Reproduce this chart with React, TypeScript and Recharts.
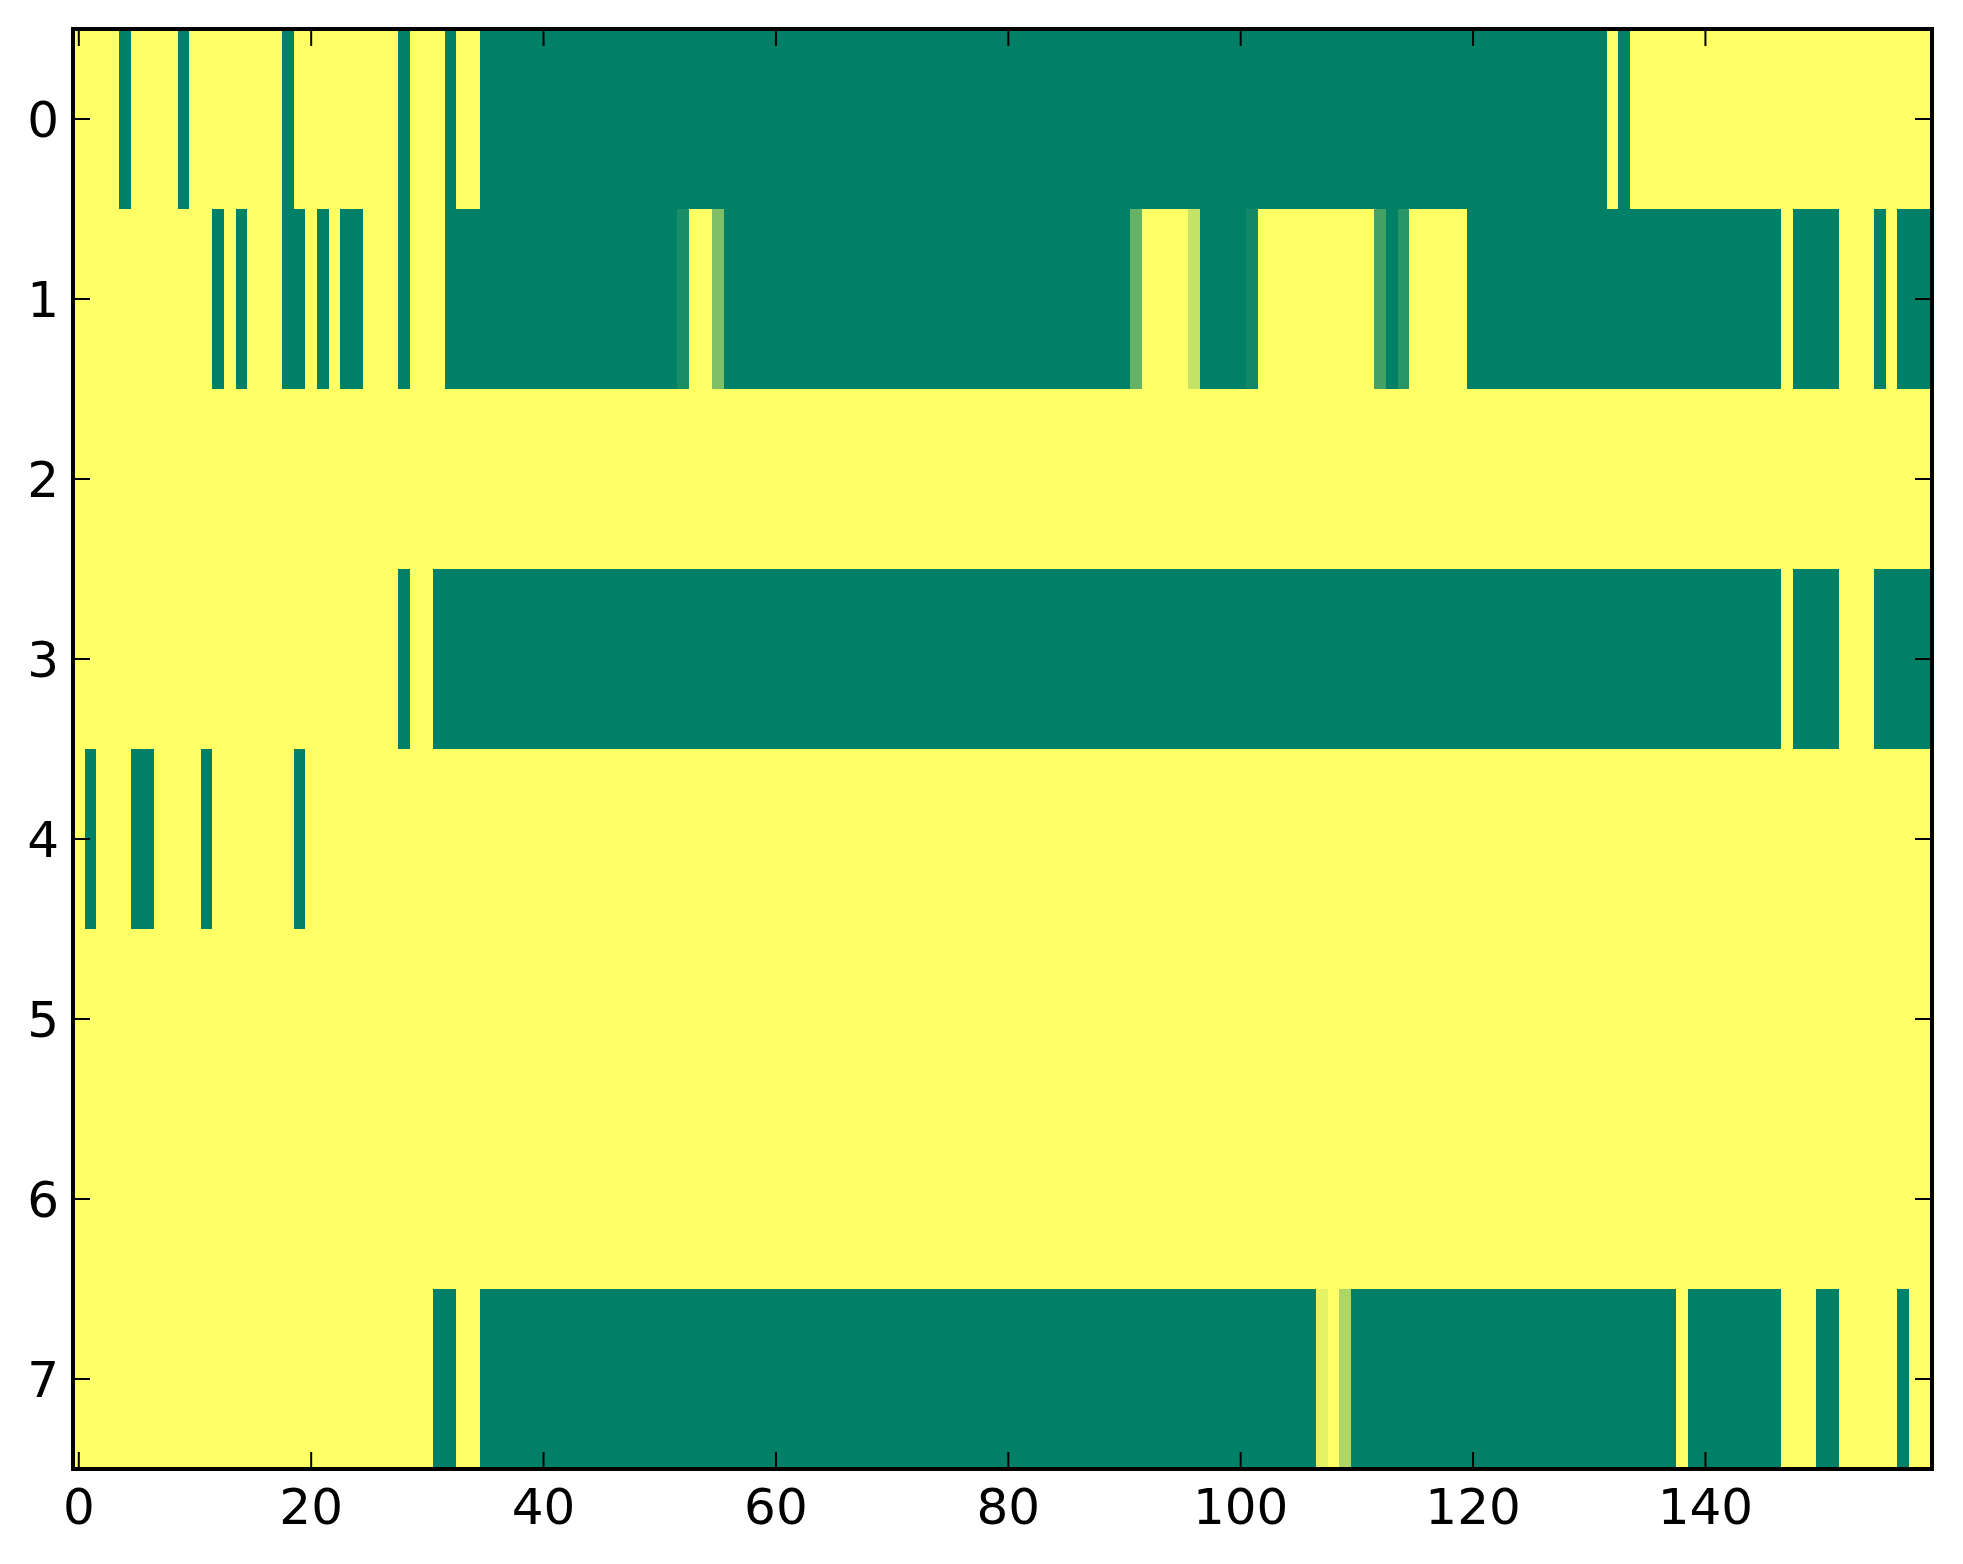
import React from 'react';
import { BarChart, Bar, XAxis, YAxis, Cell } from 'recharts';

// Row labels (top to bottom)
const rowLabels = ['0', '1', '2', '3', '4', '5', '6', '7'];

// Cell values per row (0 = green, 1 = yellow, "summer" colormap), 160 columns each
const row0 = [
  1, 1, 1, 1, 0, 1, 1, 1, 1, 0, 1, 1, 1, 1, 1, 1, 1, 1, 0, 1,
  1, 1, 1, 1, 1, 1, 1, 1, 0, 1, 1, 1, 0, 1, 1, 0, 0, 0, 0, 0,
  0, 0, 0, 0, 0, 0, 0, 0, 0, 0, 0, 0, 0, 0, 0, 0, 0, 0, 0, 0,
  0, 0, 0, 0, 0, 0, 0, 0, 0, 0, 0, 0, 0, 0, 0, 0, 0, 0, 0, 0,
  0, 0, 0, 0, 0, 0, 0, 0, 0, 0, 0, 0, 0, 0, 0, 0, 0, 0, 0, 0,
  0, 0, 0, 0, 0, 0, 0, 0, 0, 0, 0, 0, 0, 0, 0, 0, 0, 0, 0, 0,
  0, 0, 0, 0, 0, 0, 0, 0, 0, 0, 0, 0, 1, 0, 1, 1, 1, 1, 1, 1,
  1, 1, 1, 1, 1, 1, 1, 1, 1, 1, 1, 1, 1, 1, 1, 1, 1, 1, 1, 1,
];
const row1 = [
  1, 1, 1, 1, 1, 1, 1, 1, 1, 1, 1, 1, 0, 1, 0, 1, 1, 1, 0, 0,
  1, 0, 1, 0, 0, 1, 1, 1, 0, 1, 1, 1, 0, 0, 0, 0, 0, 0, 0, 0,
  0, 0, 0, 0, 0, 0, 0, 0, 0, 0, 0, 0, 0.1, 1, 1, 0.5, 0, 0, 0, 0,
  0, 0, 0, 0, 0, 0, 0, 0, 0, 0, 0, 0, 0, 0, 0, 0, 0, 0, 0, 0,
  0, 0, 0, 0, 0, 0, 0, 0, 0, 0, 0, 0.4, 1, 1, 1, 1, 0.77, 0, 0, 0,
  0, 0.07, 1, 1, 1, 1, 1, 1, 1, 1, 1, 1, 0.27, 0, 0.16, 1, 1, 1, 1, 1,
  0, 0, 0, 0, 0, 0, 0, 0, 0, 0, 0, 0, 0, 0, 0, 0, 0, 0, 0, 0,
  0, 0, 0, 0, 0, 0, 0, 1, 0, 0, 0, 0, 1, 1, 1, 0, 1, 0, 0, 0,
];
const row2 = [
  1, 1, 1, 1, 1, 1, 1, 1, 1, 1, 1, 1, 1, 1, 1, 1, 1, 1, 1, 1,
  1, 1, 1, 1, 1, 1, 1, 1, 1, 1, 1, 1, 1, 1, 1, 1, 1, 1, 1, 1,
  1, 1, 1, 1, 1, 1, 1, 1, 1, 1, 1, 1, 1, 1, 1, 1, 1, 1, 1, 1,
  1, 1, 1, 1, 1, 1, 1, 1, 1, 1, 1, 1, 1, 1, 1, 1, 1, 1, 1, 1,
  1, 1, 1, 1, 1, 1, 1, 1, 1, 1, 1, 1, 1, 1, 1, 1, 1, 1, 1, 1,
  1, 1, 1, 1, 1, 1, 1, 1, 1, 1, 1, 1, 1, 1, 1, 1, 1, 1, 1, 1,
  1, 1, 1, 1, 1, 1, 1, 1, 1, 1, 1, 1, 1, 1, 1, 1, 1, 1, 1, 1,
  1, 1, 1, 1, 1, 1, 1, 1, 1, 1, 1, 1, 1, 1, 1, 1, 1, 1, 1, 1,
];
const row3 = [
  1, 1, 1, 1, 1, 1, 1, 1, 1, 1, 1, 1, 1, 1, 1, 1, 1, 1, 1, 1,
  1, 1, 1, 1, 1, 1, 1, 1, 0, 1, 1, 0, 0, 0, 0, 0, 0, 0, 0, 0,
  0, 0, 0, 0, 0, 0, 0, 0, 0, 0, 0, 0, 0, 0, 0, 0, 0, 0, 0, 0,
  0, 0, 0, 0, 0, 0, 0, 0, 0, 0, 0, 0, 0, 0, 0, 0, 0, 0, 0, 0,
  0, 0, 0, 0, 0, 0, 0, 0, 0, 0, 0, 0, 0, 0, 0, 0, 0, 0, 0, 0,
  0, 0, 0, 0, 0, 0, 0, 0, 0, 0, 0, 0, 0, 0, 0, 0, 0, 0, 0, 0,
  0, 0, 0, 0, 0, 0, 0, 0, 0, 0, 0, 0, 0, 0, 0, 0, 0, 0, 0, 0,
  0, 0, 0, 0, 0, 0, 0, 1, 0, 0, 0, 0, 1, 1, 1, 0, 0, 0, 0, 0,
];
const row4 = [
  1, 0, 1, 1, 1, 0, 0, 1, 1, 1, 1, 0, 1, 1, 1, 1, 1, 1, 1, 0,
  1, 1, 1, 1, 1, 1, 1, 1, 1, 1, 1, 1, 1, 1, 1, 1, 1, 1, 1, 1,
  1, 1, 1, 1, 1, 1, 1, 1, 1, 1, 1, 1, 1, 1, 1, 1, 1, 1, 1, 1,
  1, 1, 1, 1, 1, 1, 1, 1, 1, 1, 1, 1, 1, 1, 1, 1, 1, 1, 1, 1,
  1, 1, 1, 1, 1, 1, 1, 1, 1, 1, 1, 1, 1, 1, 1, 1, 1, 1, 1, 1,
  1, 1, 1, 1, 1, 1, 1, 1, 1, 1, 1, 1, 1, 1, 1, 1, 1, 1, 1, 1,
  1, 1, 1, 1, 1, 1, 1, 1, 1, 1, 1, 1, 1, 1, 1, 1, 1, 1, 1, 1,
  1, 1, 1, 1, 1, 1, 1, 1, 1, 1, 1, 1, 1, 1, 1, 1, 1, 1, 1, 1,
];
const row5 = [
  1, 1, 1, 1, 1, 1, 1, 1, 1, 1, 1, 1, 1, 1, 1, 1, 1, 1, 1, 1,
  1, 1, 1, 1, 1, 1, 1, 1, 1, 1, 1, 1, 1, 1, 1, 1, 1, 1, 1, 1,
  1, 1, 1, 1, 1, 1, 1, 1, 1, 1, 1, 1, 1, 1, 1, 1, 1, 1, 1, 1,
  1, 1, 1, 1, 1, 1, 1, 1, 1, 1, 1, 1, 1, 1, 1, 1, 1, 1, 1, 1,
  1, 1, 1, 1, 1, 1, 1, 1, 1, 1, 1, 1, 1, 1, 1, 1, 1, 1, 1, 1,
  1, 1, 1, 1, 1, 1, 1, 1, 1, 1, 1, 1, 1, 1, 1, 1, 1, 1, 1, 1,
  1, 1, 1, 1, 1, 1, 1, 1, 1, 1, 1, 1, 1, 1, 1, 1, 1, 1, 1, 1,
  1, 1, 1, 1, 1, 1, 1, 1, 1, 1, 1, 1, 1, 1, 1, 1, 1, 1, 1, 1,
];
const row6 = [
  1, 1, 1, 1, 1, 1, 1, 1, 1, 1, 1, 1, 1, 1, 1, 1, 1, 1, 1, 1,
  1, 1, 1, 1, 1, 1, 1, 1, 1, 1, 1, 1, 1, 1, 1, 1, 1, 1, 1, 1,
  1, 1, 1, 1, 1, 1, 1, 1, 1, 1, 1, 1, 1, 1, 1, 1, 1, 1, 1, 1,
  1, 1, 1, 1, 1, 1, 1, 1, 1, 1, 1, 1, 1, 1, 1, 1, 1, 1, 1, 1,
  1, 1, 1, 1, 1, 1, 1, 1, 1, 1, 1, 1, 1, 1, 1, 1, 1, 1, 1, 1,
  1, 1, 1, 1, 1, 1, 1, 1, 1, 1, 1, 1, 1, 1, 1, 1, 1, 1, 1, 1,
  1, 1, 1, 1, 1, 1, 1, 1, 1, 1, 1, 1, 1, 1, 1, 1, 1, 1, 1, 1,
  1, 1, 1, 1, 1, 1, 1, 1, 1, 1, 1, 1, 1, 1, 1, 1, 1, 1, 1, 1,
];
const row7 = [
  1, 1, 1, 1, 1, 1, 1, 1, 1, 1, 1, 1, 1, 1, 1, 1, 1, 1, 1, 1,
  1, 1, 1, 1, 1, 1, 1, 1, 1, 1, 1, 0, 0, 1, 1, 0, 0, 0, 0, 0,
  0, 0, 0, 0, 0, 0, 0, 0, 0, 0, 0, 0, 0, 0, 0, 0, 0, 0, 0, 0,
  0, 0, 0, 0, 0, 0, 0, 0, 0, 0, 0, 0, 0, 0, 0, 0, 0, 0, 0, 0,
  0, 0, 0, 0, 0, 0, 0, 0, 0, 0, 0, 0, 0, 0, 0, 0, 0, 0, 0, 0,
  0, 0, 0, 0, 0, 0, 0, 0.9, 1, 0.68, 0, 0, 0, 0, 0, 0, 0, 0, 0, 0,
  0, 0, 0, 0, 0, 0, 0, 0, 0, 0, 0, 0, 0, 0, 0, 0, 0, 0, 1, 0,
  0, 0, 0, 0, 0, 0, 0, 1, 1, 1, 0, 0, 1, 1, 1, 1, 1, 0, 1, 1,
];

const xTickLabels = [0, 20, 40, 60, 80, 100, 120, 140];

const rows = [row0, row1, row2, row3, row4, row5, row6, row7];
const columnCount = row0.length;
const columnKeys = row0.map((_, c) => `c${c}`);

// Each column is one unit wide on the stacked axis: column c spans [c, c+1], centre c+0.5
const tableData = rowLabels.map((label) => {
  const entry: Record<string, number | string> = { row: label };
  columnKeys.forEach((k) => {
    entry[k] = 1;
  });
  return entry;
});
const xTickPositions = xTickLabels.map((t) => t + 0.5);

// matplotlib "summer" colormap
function summer(v: number): string {
  const r = Math.round(255 * v);
  const g = Math.round(255 * (0.5 + 0.5 * v));
  return `rgb(${r},${g},102)`;
}

const FONT = '"DejaVu Sans", "Liberation Sans", sans-serif';
const FONT_SIZE = 50;
const TICK_LEN = 17;
const TICK_W = 2;

function BottomTick(props: any) {
  const { x, y, payload } = props;
  return (
    <g>
      <line x1={x} y1={y} x2={x} y2={y - TICK_LEN} stroke="#000" strokeWidth={TICK_W} />
      <text x={x} y={y + 55} textAnchor="middle" fontSize={FONT_SIZE} fontFamily={FONT} fill="#000">
        {String(Math.round(payload.value - 0.5))}
      </text>
    </g>
  );
}

function TopTick(props: any) {
  const { x, y } = props;
  return <line x1={x} y1={y} x2={x} y2={y + TICK_LEN} stroke="#000" strokeWidth={TICK_W} />;
}

function LeftTick(props: any) {
  const { x, y, payload } = props;
  return (
    <g>
      <line x1={x} y1={y} x2={x + TICK_LEN} y2={y} stroke="#000" strokeWidth={TICK_W} />
      <text x={x - 14} y={y + 17.5} textAnchor="end" fontSize={FONT_SIZE} fontFamily={FONT} fill="#000">
        {payload.value}
      </text>
    </g>
  );
}

function RightTick(props: any) {
  const { x, y } = props;
  return <line x1={x} y1={y} x2={x - TICK_LEN} y2={y} stroke="#000" strokeWidth={TICK_W} />;
}

const axisLineStyle = { stroke: '#000', strokeWidth: 4, strokeLinecap: 'square' as const };

export default function App() {
  return (
    <div style={{ width: 1947, height: 1548 }}>
      <BarChart
        width={1947}
        height={1548}
        data={tableData}
        layout="vertical"
        barCategoryGap={0}
        barGap={0}
        margin={{ top: 0, right: 0, bottom: 0, left: 0 }}
      >
        {columnKeys.map((k, c) => (
          <Bar key={k} dataKey={k} stackId="cells" isAnimationActive={false} legendType="none">
            {rows.map((row, r) => (
              <Cell key={r} fill={summer(row[c])} shapeRendering="crispEdges" />
            ))}
          </Bar>
        ))}
        <XAxis
          type="number"
          domain={[0, columnCount]}
          ticks={xTickPositions}
          interval={0}
          height={87}
          tickSize={0}
          tickMargin={0}
          tickLine={false}
          axisLine={axisLineStyle}
          tick={<BottomTick />}
          allowDataOverflow
        />
        <XAxis
          xAxisId="top"
          orientation="top"
          type="number"
          domain={[0, columnCount]}
          ticks={xTickPositions}
          interval={0}
          height={21}
          tickSize={0}
          tickMargin={0}
          tickLine={false}
          axisLine={axisLineStyle}
          tick={<TopTick />}
          allowDataOverflow
        />
        <YAxis
          type="category"
          dataKey="row"
          width={65}
          interval={0}
          tickSize={0}
          tickMargin={0}
          tickLine={false}
          axisLine={axisLineStyle}
          tick={<LeftTick />}
        />
        <YAxis
          yAxisId="right"
          orientation="right"
          type="category"
          dataKey="row"
          width={23}
          interval={0}
          tickSize={0}
          tickMargin={0}
          tickLine={false}
          axisLine={axisLineStyle}
          tick={<RightTick />}
        />
      </BarChart>
    </div>
  );
}
